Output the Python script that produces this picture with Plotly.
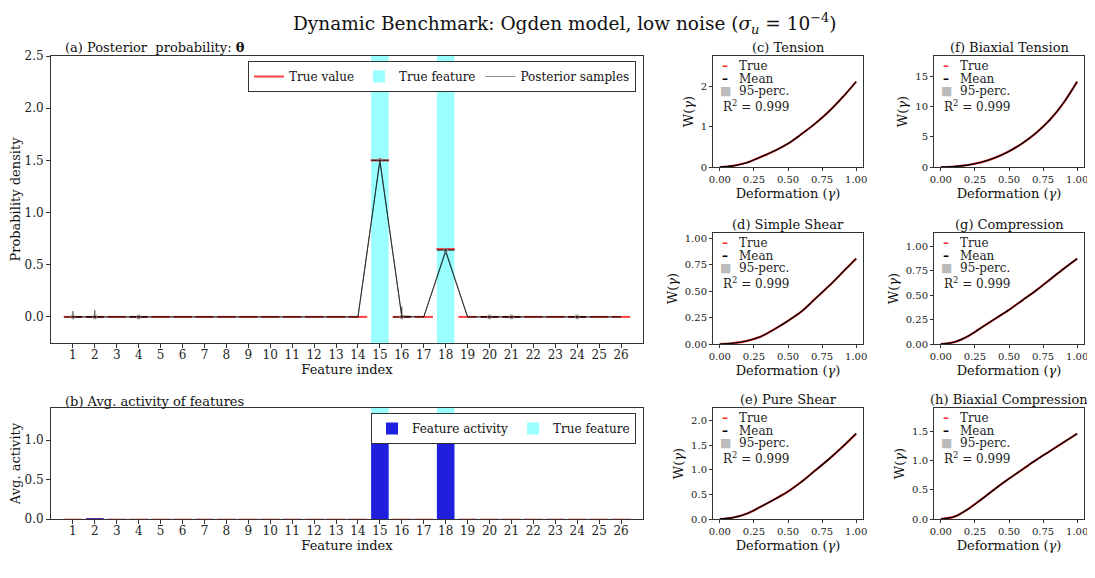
import plotly.graph_objects as go

W, H = 1095, 578
OFF = 8  # the page body adds an 8px margin around the figure
FONT = "DejaVu Serif"

# ---------------------------------------------------------------
# Data
# ---------------------------------------------------------------
features = list(range(1, 27))
true_value = [0.0, 0.0, 0.0, 0.0, 0.0, 0.0, 0.0, 0.0, 0.0, 0.0, 0.0, 0.0, 0.0, 0.0,
              1.5, 0.0, 0.0, 0.65, 0.0, 0.0, 0.0, 0.0, 0.0, 0.0, 0.0, 0.0]
true_features = [15, 18]

posterior_samples = [
    [0.0, 0.0, 0.0, 0.0, 0.0, 0.0, 0.0, 0.0, 0.0, 0.0, 0.0, 0.0, 0.0, 0.0,
     1.50, 0.0, 0.0, 0.63, 0.0, 0.0, 0.0, 0.0, 0.0, 0.0, 0.0, 0.0],
    [0.0, 0.0, 0.0, 0.0, 0.0, 0.0, 0.0, 0.0, 0.0, 0.0, 0.0, 0.0, 0.0, 0.0,
     1.49, 0.0, 0.0, 0.62, 0.0, 0.0, 0.0, 0.0, 0.0, 0.0, 0.0, 0.0],
    [0.0, 0.0, 0.0, 0.0, 0.0, 0.0, 0.0, 0.0, 0.0, 0.0, 0.0, 0.0, 0.0, 0.0,
     1.50, 0.01, 0.0, 0.64, 0.0, 0.0, 0.0, 0.0, 0.0, 0.0, 0.0, 0.0],
]

# features visited by the sampler: median and upper whisker
active_features = [1, 2, 4, 15, 16, 18, 20, 21, 24]
posterior_median = [0.0, 0.0, 0.0, 1.5, 0.0, 0.64, 0.0, 0.0, 0.0]
posterior_upper = [0.055, 0.065, 0.0, 1.5, 0.10, 0.65, 0.0, 0.0, 0.0]

feature_activity = [0.0, 0.008, 0.0, 0.0, 0.0, 0.0, 0.0, 0.0, 0.0, 0.0, 0.0, 0.0, 0.0, 0.0,
                    1.0, 0.0, 0.0, 1.0, 0.0, 0.0, 0.0, 0.0, 0.0, 0.0, 0.0, 0.0]
true_activity = [0.0, 0.0, 0.0, 0.0, 0.0, 0.0, 0.0, 0.0, 0.0, 0.0, 0.0, 0.0, 0.0, 0.0,
                 1.0, 0.0, 0.0, 1.0, 0.0, 0.0, 0.0, 0.0, 0.0, 0.0, 0.0, 0.0]

gamma = [0.0, 0.1, 0.2, 0.3, 0.4, 0.5, 0.6, 0.7, 0.8, 0.9, 1.0]
w_tension = [0.0, 0.03, 0.11, 0.25, 0.40, 0.58, 0.82, 1.08, 1.38, 1.73, 2.12]
w_biax_tension = [0.0, 0.08, 0.33, 0.80, 1.55, 2.60, 3.95, 5.65, 7.80, 10.6, 14.1]
w_simple_shear = [0.0, 0.008, 0.03, 0.07, 0.14, 0.22, 0.31, 0.43, 0.55, 0.68, 0.81]
w_compression = [0.0, 0.02, 0.08, 0.17, 0.26, 0.35, 0.45, 0.55, 0.66, 0.77, 0.875]
w_pure_shear = [0.0, 0.03, 0.11, 0.25, 0.40, 0.56, 0.76, 0.99, 1.22, 1.47, 1.74]
w_biax_compression = [0.0, 0.04, 0.17, 0.34, 0.52, 0.69, 0.85, 1.01, 1.16, 1.31, 1.46]

r2_label = "R<sup>2</sup> = 0.999"

# figure size on the page (body margin on the left/top)
FW, FH = W - OFF, H - 2 * OFF - 8


# ---------------------------------------------------------------
# Helpers (screen pixel -> paper fraction)
# ---------------------------------------------------------------
def px_x(p):
    return (p - OFF) / FW


def px_y(p):
    return 1 - (p - OFF) / FH


def hsegs(xs, ys, half=0.4):
    X, Y = [], []
    for x, y in zip(xs, ys):
        X += [x - half, x + half, None]
        Y += [y, y, None]
    return X, Y


def vsegs(xs, lo, hi):
    X, Y = [], []
    for x, a, b in zip(xs, lo, hi):
        X += [x, x, None]
        Y += [a, b, None]
    return X, Y


def label(text, x, y, size, xanchor="center", color="#111"):
    return dict(text=text, x=px_x(x), y=px_y(y), xref="paper", yref="paper",
                xanchor=xanchor, yanchor="middle", showarrow=False,
                font=dict(family=FONT, size=size, color=color))


axis_style = dict(
    showline=True, mirror=True, linecolor="#333", linewidth=1,
    ticks="outside", ticklen=4, tickcolor="#333",
    showgrid=False, zeroline=False, automargin=False, tickangle=0,
    ticklabeloverflow="allow",
    tickfont=dict(family=FONT, size=12, color="#222"),
)

fig = go.Figure()

# ---------------------------------------------------------------
# (a) posterior probability
# ---------------------------------------------------------------
fig.add_trace(go.Bar(
    x=true_features, y=[2.75] * len(true_features), base=-0.25, width=0.8,
    marker=dict(color="rgba(0,255,255,0.4)", line_width=0),
    name="True feature", legend="legend", legendrank=2,
    xaxis="x", yaxis="y",
))
tx, ty = hsegs(features, true_value, 0.42)
fig.add_trace(go.Scatter(
    x=tx, y=ty, mode="lines", line=dict(color="rgba(255,30,30,0.85)", width=2),
    name="True value", legend="legend", legendrank=1,
    xaxis="x", yaxis="y",
))
for k, s in enumerate(posterior_samples):
    fig.add_trace(go.Scatter(
        x=features, y=s, mode="lines",
        line=dict(color="rgba(0,0,0,0.45)", width=1),
        name="Posterior samples", legend="legend", legendrank=3,
        showlegend=(k == 0), xaxis="x", yaxis="y",
    ))
mx, my = hsegs(active_features, posterior_median, 0.4)
fig.add_trace(go.Scatter(
    x=mx, y=my, mode="lines", line=dict(color="rgba(0,0,0,0.6)", width=1.5),
    showlegend=False, xaxis="x", yaxis="y",
))
wx, wy = vsegs(active_features, posterior_median, posterior_upper)
fig.add_trace(go.Scatter(
    x=wx, y=wy, mode="lines", line=dict(color="rgba(0,0,0,0.8)", width=1),
    showlegend=False, xaxis="x", yaxis="y",
))
fig.add_trace(go.Scatter(
    x=active_features, y=posterior_median, mode="markers",
    marker=dict(symbol="circle-open", size=4, color="#888", line_width=1),
    showlegend=False, xaxis="x", yaxis="y",
))

# ---------------------------------------------------------------
# (b) average activity
# ---------------------------------------------------------------
fig.add_trace(go.Bar(
    x=true_features, y=[1.41] * len(true_features), base=0, width=0.8,
    marker=dict(color="rgba(0,255,255,0.4)", line_width=0),
    name="True feature", legend="legend2", legendrank=2,
    xaxis="x2", yaxis="y2",
))
fig.add_trace(go.Bar(
    x=features, y=feature_activity, width=0.8,
    marker=dict(color="#1f1fdd", line_width=0),
    name="Feature activity", legend="legend2", legendrank=1,
    xaxis="x2", yaxis="y2",
))
ax_, ay_ = hsegs(features, true_activity, 0.42)
fig.add_trace(go.Scatter(
    x=ax_, y=ay_, mode="lines", line=dict(color="rgba(255,40,40,0.5)", width=1.2),
    showlegend=False, xaxis="x2", yaxis="y2",
))

# ---------------------------------------------------------------
# small panels
# ---------------------------------------------------------------
panels = [
    # (axis id, title, values, left px, top px, dtick, fmt)
    (3, "(c) Tension", w_tension, 713, 56, 1, "d"),
    (4, "(f) Biaxial Tension", w_biax_tension, 934, 56, 5, "d"),
    (5, "(d) Simple Shear", w_simple_shear, 713, 233, 0.25, ".2f"),
    (6, "(g) Compression", w_compression, 934, 233, 0.25, ".2f"),
    (7, "(e) Pure Shear", w_pure_shear, 713, 408, 0.5, ".1f"),
    (8, "(h) Biaxial Compression", w_biax_compression, 934, 408, 0.5, ".1f"),
]
PW, PH = 150, 111

annotations = [
    label("Dynamic Benchmark: Ogden model, low noise (<i>σ<sub>u</sub></i> = 10<sup>−4</sup>)",
          565, 23, 18.5),
    label("(a) Posterior  probability: <b>θ</b>", 63, 47, 13, "left"),
    label("(b) Avg. activity of features", 63, 401, 13, "left"),
]

layout_axes = {}
for n, title, vals, left, top, dtick, fmt in panels:
    xa, ya = f"x{n}", f"y{n}"
    fig.add_trace(go.Scatter(
        x=gamma, y=vals, mode="lines", line=dict(color="#ff4040", width=2.2, shape="spline"),
        showlegend=False, xaxis=xa, yaxis=ya,
    ))
    fig.add_trace(go.Scatter(
        x=gamma, y=vals, mode="lines", line=dict(color="black", width=1.4, shape="spline"),
        showlegend=False, xaxis=xa, yaxis=ya,
    ))
    small = dict(axis_style, tickfont=dict(family=FONT, size=10, color="#222"), ticklen=3)
    layout_axes[f"xaxis{n}"] = dict(
        small, domain=[px_x(left), px_x(left + PW)], anchor=ya,
        range=[-0.05, 1.05], tickvals=[0, 0.25, 0.5, 0.75, 1.0], tickformat=".2f",
        title=dict(text="Deformation (<i>γ</i>)", standoff=4,
                   font=dict(family=FONT, size=13, color="#111")),
    )
    layout_axes[f"yaxis{n}"] = dict(
        small, domain=[px_y(top + PH), px_y(top)], anchor=xa,
        range=[0, 1.3 * max(vals)], dtick=dtick, tickformat=fmt,
        title=dict(text="W(<i>γ</i>)", standoff=4,
                   font=dict(family=FONT, size=13, color="#111")),
    )
    annotations.append(label(title, left + PW / 2, top - 9, 13))
    # legend-like labels inside each panel
    entries = [("<b>–</b>", "#ff3030", "True"), ("<b>–</b>", "black", "Mean"),
               ("■", "#bbbbbb", "95-perc.")]
    for i, (sym, col, lab) in enumerate(entries):
        yy = top + 10 + 12.6 * i
        annotations.append(label(sym, left + 12, yy, 12, color=col))
        annotations.append(label(lab, left + 24, yy, 12, "left", "#222"))
    annotations.append(label(r2_label, left + 8, top + 50, 12, "left", "#222"))

legend_common = dict(
    orientation="h", bgcolor="white", bordercolor="#333", borderwidth=1,
    font=dict(family=FONT, size=12, color="#111"), xanchor="right", yanchor="top",
    traceorder="normal", itemwidth=30,
)

main_x = dict(axis_style, range=[0.0, 27.0], tickvals=features, ticklabelstandoff=-3,
              title=dict(text="Feature index", standoff=1, font=dict(family=FONT, size=13)))

fig.update_layout(
    width=FW, height=FH,
    margin=dict(l=0, r=0, t=0, b=0),
    paper_bgcolor="white", plot_bgcolor="white",
    barmode="overlay",
    font=dict(family=FONT, color="#111"),
    xaxis=dict(main_x, domain=[px_x(51), px_x(643)], anchor="y"),
    yaxis=dict(axis_style, domain=[px_y(343), px_y(56)], anchor="x",
               range=[-0.25, 2.5], tickvals=[0, 0.5, 1.0, 1.5, 2.0, 2.5], tickformat=".1f",
               title=dict(text="Probability density", standoff=6,
                          font=dict(family=FONT, size=13))),
    xaxis2=dict(main_x, domain=[px_x(51), px_x(643)], anchor="y2"),
    yaxis2=dict(axis_style, domain=[px_y(519), px_y(408)], anchor="x2",
                range=[0, 1.41], tickvals=[0, 0.5, 1.0], tickformat=".1f",
                title=dict(text="Avg. activity", standoff=6,
                           font=dict(family=FONT, size=13))),
    legend=dict(legend_common, x=px_x(636), y=px_y(61)),
    legend2=dict(legend_common, x=px_x(636), y=px_y(413)),
    annotations=annotations,
    **layout_axes,
)

fig.write_html("out.html")
